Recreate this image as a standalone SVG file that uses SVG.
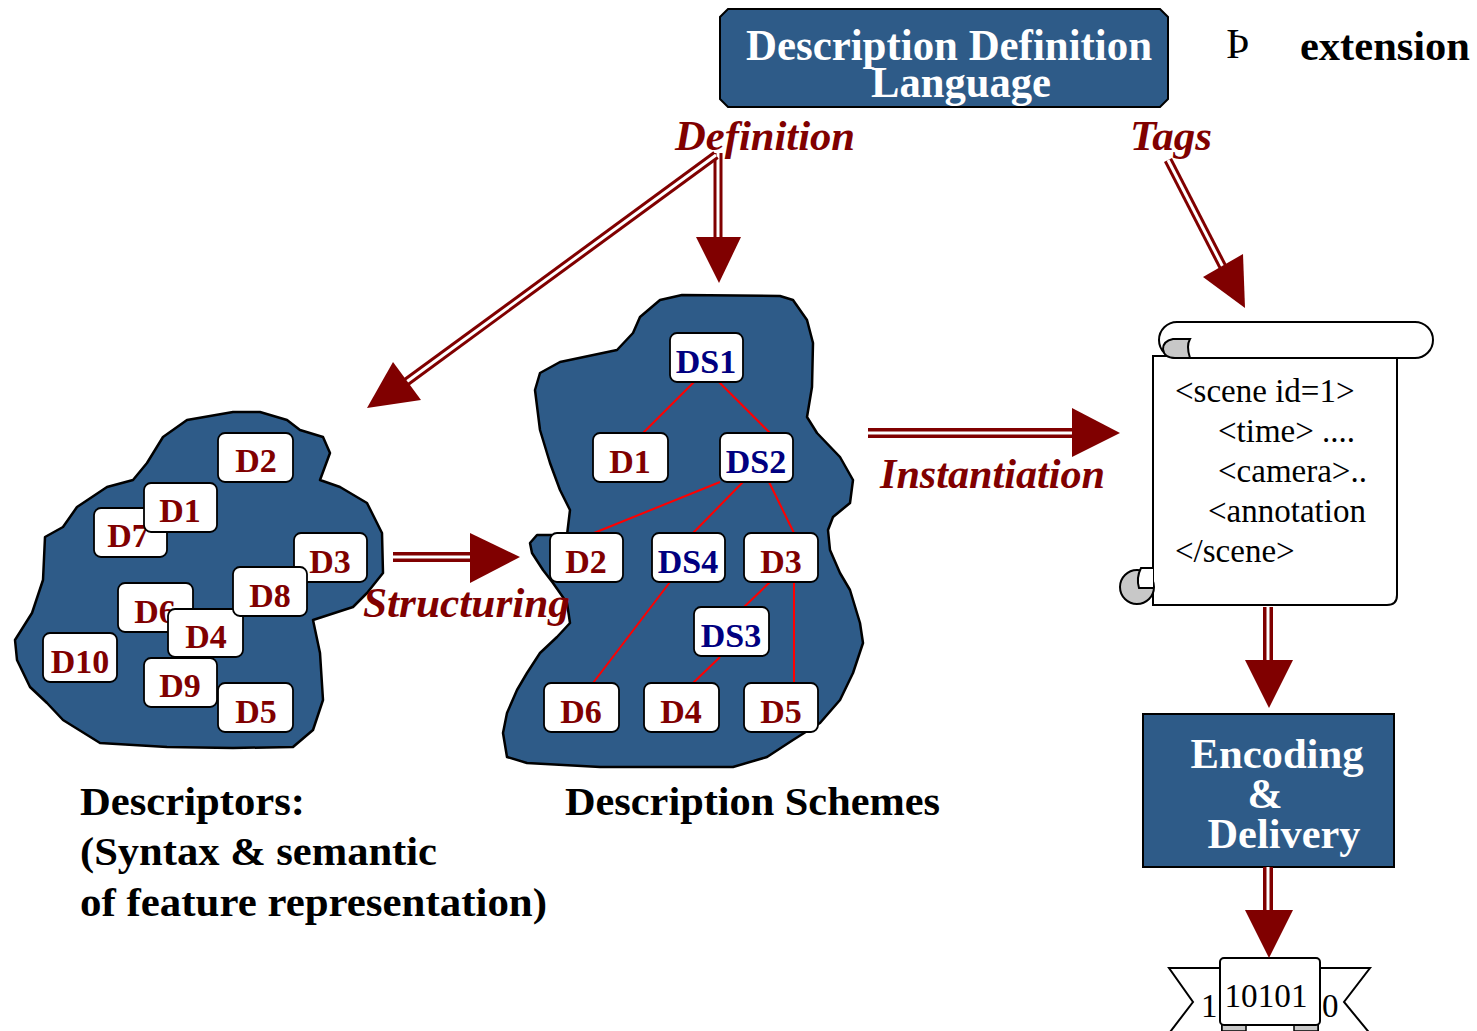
<svg xmlns="http://www.w3.org/2000/svg" width="1477" height="1031" viewBox="0 0 1477 1031">
<defs>
<style>
.blob{fill:#2e5b88;stroke:#000;stroke-width:2.5;stroke-linejoin:round}
.nb{fill:#fff;stroke:#000;stroke-width:1.8}
.dt{font-family:"Liberation Serif","Times New Roman",serif;font-weight:bold;font-size:34px;fill:#800000;text-anchor:middle}
.st{font-family:"Liberation Serif","Times New Roman",serif;font-weight:bold;font-size:34px;fill:#000080;text-anchor:middle}
.rl{stroke:#ff0000;stroke-width:2;fill:none}
.dl{fill:none;stroke:#800000;stroke-width:10}
.dl9{fill:none;stroke:#800000;stroke-width:9}
.dli{fill:none;stroke:#fff;stroke-width:3}
.ah{fill:#800000;stroke:none}
.lbl{font-family:"Liberation Serif","Times New Roman",serif;font-weight:bold;font-style:italic;fill:#800000}
.bk{font-family:"Liberation Serif","Times New Roman",serif;font-weight:bold;fill:#000;font-size:40px}
.wt{font-family:"Liberation Serif","Times New Roman",serif;font-weight:bold;fill:#fff}
.sc{font-family:"Liberation Serif","Times New Roman",serif;fill:#000;font-size:33px}
.scr{fill:#fff;stroke:#000;stroke-width:2}
.gr{fill:#c8c8c8;stroke:#000;stroke-width:2}
</style>
<path id="c1" d="M718,153 L718,240"/>
<path id="c2" d="M716,155 L405,383"/>
<path id="c3" d="M1168,160 L1225,271"/>
<path id="c4" d="M393,557 L472,557"/>
<path id="c5" d="M868,433 L1075,433"/>
<path id="c6" d="M1268,607 L1268,662"/>
<path id="c7" d="M1268,867 L1268,912"/>
</defs>
<rect width="1477" height="1031" fill="#fff"/>

<g id="ddl">
<path d="M728,9 L1160,9 L1168,17 L1168,99 L1160,107 L728,107 L720,99 L720,17 Z" fill="#2e5b88" stroke="#000" stroke-width="2"/>
<text class="wt" x="949" y="60" font-size="44" text-anchor="middle" textLength="406" lengthAdjust="spacingAndGlyphs">Description Definition</text>
<text class="wt" x="961" y="97" font-size="44" text-anchor="middle" textLength="180" lengthAdjust="spacingAndGlyphs">Language</text>
</g>

<g id="extension">
<text x="1226" y="58" font-family="Liberation Serif,serif" font-size="42" fill="#000">Þ</text>
<text class="bk" x="1300" y="60" font-size="42" textLength="170" lengthAdjust="spacingAndGlyphs" style="font-size:42px">extension</text>
</g>

<g id="descriptors">
<path class="blob" d="M233,412 L260,412 L287,420 L300,430 L323,437 L330,453 L320,480 L340,487 L367,503 L382,533 L383,573 L367,593 L353,607 L313,620 L320,653 L323,700 L313,730 L293,747 L233,748 L167,747 L100,743 L63,720 L47,703 L30,687 L17,660 L15,640 L32,613 L43,580 L45,537 L63,527 L77,507 L107,487 L133,480 L147,463 L163,437 L187,420 Z"/>
<g id="L-D2"><rect class="nb" x="218" y="433" width="75" height="49" rx="7"/><text class="dt" x="256" y="472">D2</text></g>
<g id="L-D7"><rect class="nb" x="94" y="508" width="73" height="49" rx="7"/><text class="dt" x="128" y="547">D7</text></g>
<g id="L-D1"><rect class="nb" x="144" y="483" width="73" height="49" rx="7"/><text class="dt" x="180" y="522">D1</text></g>
<g id="L-D3"><rect class="nb" x="294" y="533" width="73" height="49" rx="7"/><text class="dt" x="330" y="573">D3</text></g>
<g id="L-D6"><rect class="nb" x="118" y="583" width="75" height="49" rx="7"/><text class="dt" x="155" y="623">D6</text></g>
<g id="L-D4"><rect class="nb" x="168" y="609" width="75" height="48" rx="7"/><text class="dt" x="206" y="648">D4</text></g>
<g id="L-D8"><rect class="nb" x="233" y="567" width="74" height="49" rx="7"/><text class="dt" x="270" y="607">D8</text></g>
<g id="L-D10"><rect class="nb" x="43" y="633" width="74" height="49" rx="7"/><text class="dt" x="80" y="673">D10</text></g>
<g id="L-D9"><rect class="nb" x="144" y="658" width="73" height="49" rx="7"/><text class="dt" x="180" y="697">D9</text></g>
<g id="L-D5"><rect class="nb" x="218" y="683" width="75" height="49" rx="7"/><text class="dt" x="256" y="723">D5</text></g>
</g>

<g id="schemes">
<path class="blob" d="M682,295 L780,296 L793,300 L807,320 L813,343 L812,387 L807,417 L817,433 L840,457 L853,480 L850,503 L833,517 L828,530 L830,550 L840,573 L850,590 L860,623 L863,643 L853,673 L840,700 L820,723 L793,740 L767,757 L733,767 L667,767 L600,767 L527,763 L507,757 L503,733 L507,713 L517,690 L527,673 L540,653 L557,637 L570,623 L567,603 L553,583 L543,570 L532,553 L530,543 L537,535 L567,535 L570,510 L560,490 L550,463 L540,430 L535,390 L540,373 L560,362 L617,350 L633,333 L640,317 L660,300 Z"/>
<g id="tree-lines">
<line class="rl" x1="694" y1="382" x2="643" y2="433"/>
<line class="rl" x1="719" y1="382" x2="770" y2="433"/>
<line class="rl" x1="720" y1="482" x2="594" y2="533"/>
<line class="rl" x1="743" y1="482" x2="693" y2="533"/>
<line class="rl" x1="769" y1="482" x2="794" y2="533"/>
<line class="rl" x1="670" y1="582" x2="593" y2="683"/>
<line class="rl" x1="770" y1="582" x2="743" y2="608"/>
<line class="rl" x1="794" y1="582" x2="794" y2="683"/>
<line class="rl" x1="720" y1="657" x2="693" y2="683"/>
</g>
<g id="M-DS1"><rect class="nb" x="670" y="333" width="73" height="49" rx="7"/><text class="st" x="706" y="373">DS1</text></g>
<g id="M-D1"><rect class="nb" x="593" y="433" width="75" height="49" rx="7"/><text class="dt" x="630" y="473">D1</text></g>
<g id="M-DS2"><rect class="nb" x="720" y="433" width="73" height="49" rx="7"/><text class="st" x="756" y="473">DS2</text></g>
<g id="M-D2"><rect class="nb" x="550" y="533" width="73" height="49" rx="7"/><text class="dt" x="586" y="573">D2</text></g>
<g id="M-DS4"><rect class="nb" x="652" y="533" width="73" height="49" rx="7"/><text class="st" x="688" y="573">DS4</text></g>
<g id="M-D3"><rect class="nb" x="744" y="533" width="74" height="49" rx="7"/><text class="dt" x="781" y="573">D3</text></g>
<g id="M-DS3"><rect class="nb" x="694" y="607" width="75" height="49" rx="7"/><text class="st" x="731" y="647">DS3</text></g>
<g id="M-D6"><rect class="nb" x="544" y="683" width="75" height="49" rx="7"/><text class="dt" x="581" y="723">D6</text></g>
<g id="M-D4"><rect class="nb" x="644" y="683" width="75" height="49" rx="7"/><text class="dt" x="681" y="723">D4</text></g>
<g id="M-D5"><rect class="nb" x="744" y="683" width="74" height="49" rx="7"/><text class="dt" x="781" y="723">D5</text></g>
</g>

<g id="scroll">
<path class="scr" d="M1153,356 L1153,605 L1387,605 Q1397,605 1397,595 L1397,356 Z"/>
<path class="scr" d="M1177,322 L1415,322 A18,18 0 0 1 1415,358 L1177,358 A18,18 0 0 1 1177,322 Z"/>
<path class="gr" d="M1190,339 L1173,339 Q1163,341 1163,349 Q1164,358 1175,358 L1190,358 Q1186,346 1190,339 Z"/>
<circle class="gr" cx="1137" cy="587" r="17"/>
<path class="scr" d="M1153,568 L1141,568 Q1136,578 1139,588 L1153,588"/>
<text class="sc" x="1175" y="402">&lt;scene id=1&gt;</text>
<text class="sc" x="1218" y="442">&lt;time&gt; ....</text>
<text class="sc" x="1218" y="482">&lt;camera&gt;..</text>
<text class="sc" x="1208" y="522">&lt;annotation</text>
<text class="sc" x="1175" y="562">&lt;/scene&gt;</text>
</g>

<g id="encoding">
<rect x="1143" y="714" width="251" height="153" fill="#2e5b88" stroke="#000" stroke-width="2"/>
<text class="wt" x="1277" y="768" font-size="42" text-anchor="middle" textLength="173" lengthAdjust="spacingAndGlyphs">Encoding</text>
<text class="wt" x="1265" y="808" font-size="42" text-anchor="middle">&amp;</text>
<text class="wt" x="1284" y="848" font-size="42" text-anchor="middle" textLength="153" lengthAdjust="spacingAndGlyphs">Delivery</text>
</g>

<g id="bits">
<polygon points="1169,968 1222,968 1222,1036 1167,1036 1193,1002" fill="#fff" stroke="#000" stroke-width="2"/>
<polygon points="1370,968 1318,968 1318,1036 1372,1036 1344,1002" fill="#fff" stroke="#000" stroke-width="2"/>
<rect x="1222" y="1022" width="24" height="9" fill="#c8c8c8" stroke="#000" stroke-width="1.5"/>
<rect x="1294" y="1022" width="24" height="9" fill="#c8c8c8" stroke="#000" stroke-width="1.5"/>
<rect x="1220" y="958" width="100" height="67" rx="4" fill="#fff" stroke="#000" stroke-width="2"/>
<text class="sc" x="1201" y="1017">1</text>
<text class="sc" x="1266" y="1007" text-anchor="middle" textLength="83" lengthAdjust="spacingAndGlyphs">10101</text>
<text class="sc" x="1322" y="1017">0</text>
</g>

<g id="connectors">
<use href="#c1" class="dl9"/><use href="#c1" class="dli"/>
<polygon class="ah" points="696,237 741,237 719,283"/>
<use href="#c2" class="dl9"/><use href="#c2" class="dli"/>
<polygon class="ah" points="393,362 421,400 367,408"/>
<use href="#c3" class="dl9"/><use href="#c3" class="dli"/>
<polygon class="ah" points="1243,254 1203,277 1245,308"/>
<use href="#c4" class="dl"/><use href="#c4" class="dli"/>
<polygon class="ah" points="470,533 470,583 520,557"/>
<use href="#c5" class="dl"/><use href="#c5" class="dli"/>
<polygon class="ah" points="1072,408 1072,457 1120,433"/>
<use href="#c6" class="dl"/><use href="#c6" class="dli"/>
<polygon class="ah" points="1245,660 1293,660 1269,708"/>
<use href="#c7" class="dl"/><use href="#c7" class="dli"/>
<polygon class="ah" points="1245,910 1293,910 1269,958"/>
</g>

<g id="labels">
<text class="lbl" x="675" y="150" font-size="42" textLength="180" lengthAdjust="spacingAndGlyphs">Definition</text>
<text class="lbl" x="1130" y="150" font-size="42" textLength="82" lengthAdjust="spacingAndGlyphs">Tags</text>
<text class="lbl" x="363" y="617" font-size="42" textLength="207" lengthAdjust="spacingAndGlyphs">Structuring</text>
<text class="lbl" x="880" y="488" font-size="42" textLength="225" lengthAdjust="spacingAndGlyphs">Instantiation</text>
<text class="bk" x="80" y="815" textLength="225" lengthAdjust="spacingAndGlyphs">Descriptors:</text>
<text class="bk" x="80" y="865" textLength="357" lengthAdjust="spacingAndGlyphs">(Syntax &amp; semantic</text>
<text class="bk" x="80" y="916" textLength="467" lengthAdjust="spacingAndGlyphs">of feature representation)</text>
<text class="bk" x="565" y="815" textLength="375" lengthAdjust="spacingAndGlyphs">Description Schemes</text>
</g>
</svg>
